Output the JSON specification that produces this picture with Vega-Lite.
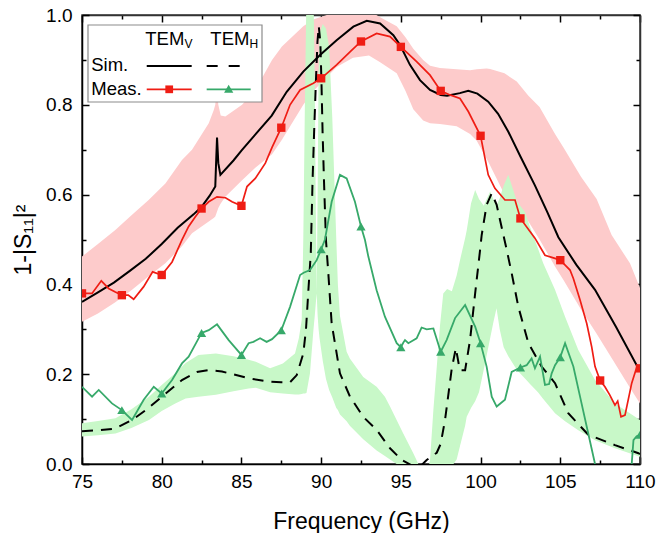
{
  "$schema": "https://vega.github.io/schema/vega-lite/v6.json",
  "width": 558,
  "height": 449,
  "autosize": {"type": "none"},
  "padding": {"left": 82, "top": 15, "right": 16, "bottom": 69},
  "background": "white",
  "config": {
    "font": "Liberation Sans",
    "view": {"stroke": "#333333", "strokeWidth": 1.5},
    "axis": {"grid": false, "zindex": 1, "labelColor": "black", "tickColor": "black", "domainColor": "black", "titleColor": "black"}
  },
  "datasets": {
    "pink": [
      {"x": 75, "lo": 0.317, "hi": 0.462}, {"x": 76, "lo": 0.335, "hi": 0.49}, {"x": 77.09, "lo": 0.36, "hi": 0.521},
      {"x": 78.14, "lo": 0.388, "hi": 0.555}, {"x": 79.18, "lo": 0.418, "hi": 0.588}, {"x": 80.23, "lo": 0.447, "hi": 0.625},
      {"x": 81.27, "lo": 0.485, "hi": 0.677}, {"x": 81.9, "lo": 0.514, "hi": 0.7}, {"x": 82.95, "lo": 0.54, "hi": 0.759},
      {"x": 83.26, "lo": 0.548, "hi": 0.788}, {"x": 83.36, "lo": 0.551, "hi": 0.8}, {"x": 83.45, "lo": 0.56, "hi": 0.84},
      {"x": 83.55, "lo": 0.57, "hi": 0.8}, {"x": 83.7, "lo": 0.58, "hi": 0.776}, {"x": 83.99, "lo": 0.595, "hi": 0.774},
      {"x": 85.04, "lo": 0.632, "hi": 0.8}, {"x": 85.87, "lo": 0.66, "hi": 0.833}, {"x": 86.92, "lo": 0.69, "hi": 0.9},
      {"x": 87.54, "lo": 0.722, "hi": 0.93}, {"x": 88.88, "lo": 0.8, "hi": 0.975}, {"x": 89.5, "lo": 0.83, "hi": 0.99},
      {"x": 90.35, "lo": 0.862, "hi": 1.0}, {"x": 91, "lo": 0.885, "hi": 1.01}, {"x": 92, "lo": 0.905, "hi": 1.02},
      {"x": 93, "lo": 0.91, "hi": 1.01}, {"x": 93.7, "lo": 0.895, "hi": 0.995}, {"x": 94.74, "lo": 0.87, "hi": 0.975},
      {"x": 95.3, "lo": 0.83, "hi": 0.95}, {"x": 95.78, "lo": 0.79, "hi": 0.925}, {"x": 96.4, "lo": 0.765, "hi": 0.9},
      {"x": 96.83, "lo": 0.759, "hi": 0.887}, {"x": 97.45, "lo": 0.757, "hi": 0.882}, {"x": 98.5, "lo": 0.752, "hi": 0.879},
      {"x": 99.34, "lo": 0.735, "hi": 0.877}, {"x": 99.76, "lo": 0.72, "hi": 0.879}, {"x": 100.38, "lo": 0.68, "hi": 0.881},
      {"x": 100.6, "lo": 0.665, "hi": 0.88}, {"x": 101.5, "lo": 0.6, "hi": 0.87}, {"x": 102.27, "lo": 0.575, "hi": 0.852},
      {"x": 103, "lo": 0.54, "hi": 0.82}, {"x": 103.7, "lo": 0.5, "hi": 0.795}, {"x": 104.67, "lo": 0.44, "hi": 0.735},
      {"x": 105.2, "lo": 0.41, "hi": 0.705}, {"x": 106.3, "lo": 0.344, "hi": 0.64}, {"x": 107.28, "lo": 0.29, "hi": 0.59},
      {"x": 108.22, "lo": 0.236, "hi": 0.51}, {"x": 109.37, "lo": 0.17, "hi": 0.447}, {"x": 110, "lo": 0.135, "hi": 0.392}
    ],
    "band1": [
      {"x": 75, "lo": 0.091, "hi": 0.061}, {"x": 76, "lo": 0.096, "hi": 0.064}, {"x": 77.1, "lo": 0.102, "hi": 0.068},
      {"x": 78.1, "lo": 0.122, "hi": 0.08}, {"x": 79.2, "lo": 0.15, "hi": 0.098}, {"x": 80, "lo": 0.176, "hi": 0.118},
      {"x": 80.85, "lo": 0.202, "hi": 0.135}, {"x": 81.5, "lo": 0.225, "hi": 0.146}, {"x": 82.3, "lo": 0.243, "hi": 0.15},
      {"x": 83.4, "lo": 0.246, "hi": 0.154}, {"x": 84.5, "lo": 0.24, "hi": 0.162}, {"x": 85.45, "lo": 0.232, "hi": 0.168},
      {"x": 85.9, "lo": 0.228, "hi": 0.17}, {"x": 86.8, "lo": 0.213, "hi": 0.16}, {"x": 87.6, "lo": 0.224, "hi": 0.157},
      {"x": 88.36, "lo": 0.246, "hi": 0.155}, {"x": 88.6, "lo": 0.28, "hi": 0.155}, {"x": 88.78, "lo": 0.32, "hi": 0.156},
      {"x": 88.88, "lo": 0.5, "hi": 0.157}, {"x": 88.98, "lo": 0.8, "hi": 0.157}, {"x": 89.08, "lo": 1.05, "hi": 0.158},
      {"x": 89.3, "lo": 1.05, "hi": 0.202}, {"x": 89.52, "lo": 1.05, "hi": 0.3}, {"x": 89.6, "lo": 0.85, "hi": 0.33},
      {"x": 89.67, "lo": 0.55, "hi": 0.36}, {"x": 89.72, "lo": 0.38, "hi": 0.38}, {"x": 89.78, "lo": 0.33, "hi": 0.6},
      {"x": 89.84, "lo": 0.3, "hi": 0.88}, {"x": 89.9, "lo": 0.28, "hi": 0.96}, {"x": 90.1, "lo": 0.23, "hi": 0.98},
      {"x": 90.3, "lo": 0.19, "hi": 0.97}, {"x": 90.5, "lo": 0.165, "hi": 0.93}, {"x": 90.7, "lo": 0.148, "hi": 0.77},
      {"x": 90.95, "lo": 0.125, "hi": 0.5}, {"x": 91.05, "lo": 0.12, "hi": 0.4}, {"x": 91.18, "lo": 0.11, "hi": 0.33},
      {"x": 91.6, "lo": 0.095, "hi": 0.25}, {"x": 91.8, "lo": 0.085, "hi": 0.235}, {"x": 92.64, "lo": 0.055, "hi": 0.194},
      {"x": 93.48, "lo": 0.03, "hi": 0.172}, {"x": 94, "lo": 0.018, "hi": 0.15}, {"x": 94.32, "lo": 0.01, "hi": 0.128},
      {"x": 95.15, "lo": -0.01, "hi": 0.068}, {"x": 95.78, "lo": -0.02, "hi": 0.024}, {"x": 96.1, "lo": -0.03, "hi": 0.0},
      {"x": 96.5, "lo": -0.04, "hi": -0.03}
    ],
    "band2": [
      {"x": 96.6, "lo": -0.06, "hi": -0.03}, {"x": 96.83, "lo": -0.06, "hi": 0.009}, {"x": 97.04, "lo": -0.05, "hi": 0.12},
      {"x": 97.45, "lo": -0.04, "hi": 0.306}, {"x": 97.66, "lo": -0.03, "hi": 0.38}, {"x": 97.9, "lo": -0.02, "hi": 0.39},
      {"x": 98.2, "lo": -0.005, "hi": 0.385}, {"x": 98.5, "lo": 0.01, "hi": 0.42}, {"x": 98.71, "lo": 0.04, "hi": 0.454},
      {"x": 99.03, "lo": 0.085, "hi": 0.503}, {"x": 99.13, "lo": 0.105, "hi": 0.52}, {"x": 99.4, "lo": 0.125, "hi": 0.58},
      {"x": 99.66, "lo": 0.14, "hi": 0.61}, {"x": 99.9, "lo": 0.16, "hi": 0.59}, {"x": 100.2, "lo": 0.21, "hi": 0.575},
      {"x": 100.6, "lo": 0.28, "hi": 0.607}, {"x": 100.8, "lo": 0.315, "hi": 0.59}, {"x": 101, "lo": 0.347, "hi": 0.575},
      {"x": 101.2, "lo": 0.3, "hi": 0.592}, {"x": 101.45, "lo": 0.26, "hi": 0.62}, {"x": 101.74, "lo": 0.24, "hi": 0.644},
      {"x": 102.27, "lo": 0.21, "hi": 0.586}, {"x": 102.8, "lo": 0.19, "hi": 0.56}, {"x": 103.1, "lo": 0.178, "hi": 0.528},
      {"x": 103.6, "lo": 0.16, "hi": 0.48}, {"x": 103.93, "lo": 0.145, "hi": 0.447}, {"x": 104.67, "lo": 0.113, "hi": 0.388},
      {"x": 105.3, "lo": 0.095, "hi": 0.328}, {"x": 106.13, "lo": 0.075, "hi": 0.254}, {"x": 107.18, "lo": 0.053, "hi": 0.187},
      {"x": 108.43, "lo": 0.035, "hi": 0.135}, {"x": 110, "lo": 0.016, "hi": 0.098}
    ],
    "simV": [
      {"x": 75, "y": 0.361}, {"x": 76, "y": 0.382}, {"x": 77, "y": 0.404}, {"x": 78, "y": 0.43}, {"x": 79, "y": 0.457},
      {"x": 80, "y": 0.49}, {"x": 81, "y": 0.526}, {"x": 82, "y": 0.556}, {"x": 82.5, "y": 0.573}, {"x": 83, "y": 0.597},
      {"x": 83.36, "y": 0.618}, {"x": 83.42, "y": 0.68}, {"x": 83.47, "y": 0.727}, {"x": 83.55, "y": 0.67},
      {"x": 83.68, "y": 0.644}, {"x": 84.5, "y": 0.676}, {"x": 85, "y": 0.698}, {"x": 86, "y": 0.739}, {"x": 86.9, "y": 0.776},
      {"x": 87.84, "y": 0.829}, {"x": 88.88, "y": 0.874}, {"x": 89.93, "y": 0.911}, {"x": 90.97, "y": 0.944},
      {"x": 92.02, "y": 0.974}, {"x": 92.86, "y": 0.987}, {"x": 93.7, "y": 0.981}, {"x": 94.53, "y": 0.955},
      {"x": 94.95, "y": 0.933}, {"x": 95.57, "y": 0.889}, {"x": 96.2, "y": 0.855}, {"x": 96.83, "y": 0.833},
      {"x": 97.5, "y": 0.822}, {"x": 97.9, "y": 0.82}, {"x": 98.7, "y": 0.826}, {"x": 99.23, "y": 0.831},
      {"x": 99.8, "y": 0.825}, {"x": 100.48, "y": 0.807}, {"x": 101.1, "y": 0.78}, {"x": 101.74, "y": 0.74},
      {"x": 102.5, "y": 0.685}, {"x": 103.4, "y": 0.621}, {"x": 104.2, "y": 0.56}, {"x": 104.88, "y": 0.505},
      {"x": 106, "y": 0.444}, {"x": 107.18, "y": 0.388}, {"x": 108.5, "y": 0.305}, {"x": 109.79, "y": 0.22}, {"x": 110, "y": 0.212}
    ],
    "simH": [
      {"x": 75, "y": 0.073}, {"x": 76, "y": 0.075}, {"x": 77.09, "y": 0.079}, {"x": 78.14, "y": 0.098}, {"x": 79, "y": 0.12},
      {"x": 80.02, "y": 0.15}, {"x": 81.27, "y": 0.187}, {"x": 82.2, "y": 0.205}, {"x": 82.95, "y": 0.209},
      {"x": 83.78, "y": 0.206}, {"x": 85.45, "y": 0.191}, {"x": 86.6, "y": 0.184}, {"x": 87.5, "y": 0.182},
      {"x": 88.05, "y": 0.182}, {"x": 88.47, "y": 0.198}, {"x": 88.7, "y": 0.225}, {"x": 88.88, "y": 0.246},
      {"x": 89.05, "y": 0.3}, {"x": 89.2, "y": 0.387}, {"x": 89.35, "y": 0.469}, {"x": 89.46, "y": 0.629},
      {"x": 89.56, "y": 0.74}, {"x": 89.67, "y": 0.851}, {"x": 89.77, "y": 0.941}, {"x": 89.85, "y": 0.975},
      {"x": 89.95, "y": 0.94}, {"x": 90.02, "y": 0.851}, {"x": 90.09, "y": 0.74}, {"x": 90.18, "y": 0.629},
      {"x": 90.3, "y": 0.5}, {"x": 90.45, "y": 0.425}, {"x": 90.66, "y": 0.313}, {"x": 91.18, "y": 0.202},
      {"x": 91.81, "y": 0.15}, {"x": 92.64, "y": 0.105}, {"x": 93.48, "y": 0.076}, {"x": 94.32, "y": 0.035},
      {"x": 95.05, "y": 0.009}, {"x": 95.78, "y": -0.005}, {"x": 96.2, "y": -0.006}, {"x": 96.62, "y": 0.009},
      {"x": 97.25, "y": 0.025}, {"x": 97.5, "y": 0.045}, {"x": 97.77, "y": 0.098}, {"x": 98, "y": 0.16},
      {"x": 98.19, "y": 0.212}, {"x": 98.45, "y": 0.258}, {"x": 98.7, "y": 0.209}, {"x": 99.03, "y": 0.209},
      {"x": 99.34, "y": 0.276}, {"x": 99.66, "y": 0.38}, {"x": 99.97, "y": 0.477}, {"x": 100.07, "y": 0.51},
      {"x": 100.38, "y": 0.577}, {"x": 100.7, "y": 0.603}, {"x": 101.01, "y": 0.577}, {"x": 101.43, "y": 0.51},
      {"x": 101.64, "y": 0.477}, {"x": 101.95, "y": 0.425}, {"x": 102.37, "y": 0.35}, {"x": 103, "y": 0.269},
      {"x": 103.83, "y": 0.217}, {"x": 104.67, "y": 0.18}, {"x": 105.5, "y": 0.113}, {"x": 106.76, "y": 0.065},
      {"x": 108.43, "y": 0.042}, {"x": 109.9, "y": 0.024}, {"x": 110, "y": 0.022}
    ],
    "measV": [
      {"x": 75, "y": 0.38}, {"x": 75.63, "y": 0.38}, {"x": 76.21, "y": 0.408}, {"x": 76.67, "y": 0.391}, {"x": 77.09, "y": 0.383},
      {"x": 77.5, "y": 0.376}, {"x": 77.9, "y": 0.376}, {"x": 78.24, "y": 0.367}, {"x": 78.87, "y": 0.395},
      {"x": 79.43, "y": 0.428}, {"x": 80, "y": 0.421}, {"x": 80.65, "y": 0.45}, {"x": 81.27, "y": 0.499},
      {"x": 81.69, "y": 0.529}, {"x": 82.1, "y": 0.55}, {"x": 82.5, "y": 0.569}, {"x": 82.95, "y": 0.584},
      {"x": 83.47, "y": 0.595}, {"x": 84, "y": 0.593}, {"x": 84.41, "y": 0.584}, {"x": 85, "y": 0.575},
      {"x": 85.35, "y": 0.618}, {"x": 85.87, "y": 0.636}, {"x": 86.5, "y": 0.67}, {"x": 86.92, "y": 0.705},
      {"x": 87.5, "y": 0.749}, {"x": 88.05, "y": 0.8}, {"x": 88.68, "y": 0.833}, {"x": 89.51, "y": 0.848},
      {"x": 90, "y": 0.859}, {"x": 90.97, "y": 0.889}, {"x": 91.81, "y": 0.918}, {"x": 92.5, "y": 0.941},
      {"x": 93.48, "y": 0.959}, {"x": 94.32, "y": 0.952}, {"x": 95, "y": 0.929}, {"x": 95.99, "y": 0.896},
      {"x": 96.83, "y": 0.866}, {"x": 97.5, "y": 0.831}, {"x": 98.08, "y": 0.822}, {"x": 98.71, "y": 0.814},
      {"x": 99.23, "y": 0.785}, {"x": 100, "y": 0.731}, {"x": 100.48, "y": 0.644}, {"x": 100.9, "y": 0.614},
      {"x": 101.53, "y": 0.588}, {"x": 102.16, "y": 0.588}, {"x": 102.5, "y": 0.547}, {"x": 103.41, "y": 0.503},
      {"x": 104.04, "y": 0.465}, {"x": 104.67, "y": 0.458}, {"x": 105, "y": 0.454}, {"x": 105.61, "y": 0.432},
      {"x": 105.82, "y": 0.413}, {"x": 106.24, "y": 0.365}, {"x": 106.66, "y": 0.313}, {"x": 106.97, "y": 0.261},
      {"x": 107.18, "y": 0.217}, {"x": 107.5, "y": 0.186}, {"x": 107.8, "y": 0.172}, {"x": 108.1, "y": 0.154},
      {"x": 108.43, "y": 0.131}, {"x": 108.6, "y": 0.14}, {"x": 108.81, "y": 0.105}, {"x": 109.06, "y": 0.109},
      {"x": 109.48, "y": 0.18}, {"x": 109.79, "y": 0.215}, {"x": 110, "y": 0.213}
    ],
    "measH": [
      {"x": 75, "y": 0.172}, {"x": 75.63, "y": 0.15}, {"x": 76.05, "y": 0.165}, {"x": 76.88, "y": 0.135}, {"x": 77.5, "y": 0.12},
      {"x": 78.14, "y": 0.098}, {"x": 78.87, "y": 0.143}, {"x": 79.5, "y": 0.172}, {"x": 80, "y": 0.157},
      {"x": 80.65, "y": 0.187}, {"x": 81.27, "y": 0.224}, {"x": 81.69, "y": 0.239}, {"x": 82.5, "y": 0.292},
      {"x": 82.95, "y": 0.298}, {"x": 83.47, "y": 0.311}, {"x": 84.2, "y": 0.276}, {"x": 85, "y": 0.243},
      {"x": 85.45, "y": 0.269}, {"x": 85.75, "y": 0.272}, {"x": 86.17, "y": 0.28}, {"x": 86.58, "y": 0.272},
      {"x": 86.92, "y": 0.278}, {"x": 87.5, "y": 0.298}, {"x": 88.05, "y": 0.35}, {"x": 88.68, "y": 0.421},
      {"x": 88.9, "y": 0.426}, {"x": 89.3, "y": 0.432}, {"x": 89.72, "y": 0.454}, {"x": 90, "y": 0.478},
      {"x": 90.24, "y": 0.5}, {"x": 90.66, "y": 0.584}, {"x": 91.18, "y": 0.644}, {"x": 91.6, "y": 0.636},
      {"x": 92.12, "y": 0.584}, {"x": 92.5, "y": 0.529}, {"x": 92.75, "y": 0.499}, {"x": 92.96, "y": 0.462},
      {"x": 93.48, "y": 0.387}, {"x": 94, "y": 0.328}, {"x": 94.74, "y": 0.269}, {"x": 95, "y": 0.26},
      {"x": 95.15, "y": 0.27}, {"x": 95.26, "y": 0.276}, {"x": 95.47, "y": 0.269}, {"x": 95.99, "y": 0.28},
      {"x": 96.3, "y": 0.304}, {"x": 96.62, "y": 0.3}, {"x": 97.04, "y": 0.302}, {"x": 97.5, "y": 0.25},
      {"x": 97.87, "y": 0.276}, {"x": 98.4, "y": 0.325}, {"x": 99.03, "y": 0.354}, {"x": 99.66, "y": 0.306},
      {"x": 100, "y": 0.269}, {"x": 100.38, "y": 0.217}, {"x": 100.7, "y": 0.15}, {"x": 101.01, "y": 0.128},
      {"x": 101.53, "y": 0.143}, {"x": 101.95, "y": 0.205}, {"x": 102.5, "y": 0.215}, {"x": 102.89, "y": 0.22},
      {"x": 103.2, "y": 0.235}, {"x": 103.41, "y": 0.213}, {"x": 103.73, "y": 0.239}, {"x": 104.04, "y": 0.176},
      {"x": 104.3, "y": 0.178}, {"x": 104.46, "y": 0.202}, {"x": 104.67, "y": 0.22}, {"x": 105, "y": 0.238},
      {"x": 105.3, "y": 0.269}, {"x": 105.82, "y": 0.217}, {"x": 106.24, "y": 0.15}, {"x": 106.66, "y": 0.083},
      {"x": 107.18, "y": 0.0}, {"x": 107.5, "y": -0.03}, {"x": 108.5, "y": -0.06}, {"x": 109.4, "y": -0.02},
      {"x": 109.48, "y": 0.0}, {"x": 109.59, "y": 0.053}, {"x": 109.79, "y": 0.062}, {"x": 110, "y": 0.065}
    ],
    "markV": [
      {"x": 75, "y": 0.38}, {"x": 77.5, "y": 0.376}, {"x": 80, "y": 0.421}, {"x": 82.5, "y": 0.569}, {"x": 85, "y": 0.575},
      {"x": 87.5, "y": 0.749}, {"x": 90, "y": 0.859}, {"x": 92.5, "y": 0.941}, {"x": 95, "y": 0.929}, {"x": 97.5, "y": 0.831},
      {"x": 100, "y": 0.731}, {"x": 102.5, "y": 0.547}, {"x": 105, "y": 0.454}, {"x": 107.5, "y": 0.186}, {"x": 110, "y": 0.213}
    ],
    "markH": [
      {"x": 77.5, "y": 0.12}, {"x": 80, "y": 0.157}, {"x": 82.5, "y": 0.292}, {"x": 85, "y": 0.243}, {"x": 87.5, "y": 0.298},
      {"x": 90, "y": 0.478}, {"x": 92.5, "y": 0.529}, {"x": 95, "y": 0.26}, {"x": 97.5, "y": 0.25}, {"x": 100, "y": 0.269},
      {"x": 102.5, "y": 0.215}, {"x": 105, "y": 0.238}, {"x": 110, "y": 0.065}
    ]
  },
  "resolve": {"axis": {"x": "independent", "y": "independent"}},
  "layer": [
    {
      "data": {"name": "pink"},
      "mark": {"type": "area", "color": "#fdcbcb", "opacity": 1, "clip": true},
      "encoding": {
        "x": {"field": "x", "type": "quantitative", "scale": {"domain": [75, 110]},
          "axis": {"orient": "bottom", "values": [75, 80, 85, 90, 95, 100, 105, 110], "ticks": false,
            "domain": true, "domainWidth": 1.5, "labelFontSize": 19, "labelPadding": 8, "labelFlush": false, "labelOverlap": false,
            "title": "Frequency (GHz)", "titleFontSize": 23, "titleFontWeight": "normal", "titleBaseline": "alphabetic", "titleY": 64}},
        "y": {"field": "lo", "type": "quantitative", "scale": {"domain": [0, 1]},
          "axis": {"orient": "left", "values": [0, 0.2, 0.4, 0.6, 0.8, 1], "format": ".1f", "ticks": false,
            "domain": true, "domainWidth": 1.5, "labelFontSize": 19, "labelPadding": 10, "labelFlush": false, "labelOverlap": false,
            "title": "1-|S₁₁|²", "titleFontSize": 23, "titleFontWeight": "normal", "titleBaseline": "alphabetic", "titleX": -52}},
        "y2": {"field": "hi"}
      }
    },
    {
      "data": {"name": "band1"},
      "mark": {"type": "area", "color": "#c8f8c8", "opacity": 1, "clip": true},
      "encoding": {
        "x": {"field": "x", "type": "quantitative", "scale": {"domain": [75, 110]},
          "axis": {"orient": "bottom", "values": [75, 80, 85, 90, 95, 100, 105, 110], "offset": -7, "tickSize": 7, "tickWidth": 1.5,
            "domain": false, "labels": false, "title": null}},
        "y": {"field": "lo", "type": "quantitative", "scale": {"domain": [0, 1]},
          "axis": {"orient": "left", "values": [0, 0.2, 0.4, 0.6, 0.8, 1], "offset": -7, "tickSize": 7, "tickWidth": 1.5,
            "domain": false, "labels": false, "title": null}},
        "y2": {"field": "hi"}
      }
    },
    {
      "data": {"name": "band2"},
      "mark": {"type": "area", "color": "#c8f8c8", "opacity": 1, "clip": true},
      "encoding": {
        "x": {"field": "x", "type": "quantitative", "scale": {"domain": [75, 110]},
          "axis": {"orient": "bottom", "values": [77.5, 82.5, 87.5, 92.5, 97.5, 102.5, 107.5], "offset": -4, "tickSize": 4, "tickWidth": 1.5,
            "domain": false, "labels": false, "title": null}},
        "y": {"field": "lo", "type": "quantitative", "scale": {"domain": [0, 1]},
          "axis": {"orient": "left", "values": [0.1, 0.3, 0.5, 0.7, 0.9], "offset": -4, "tickSize": 4, "tickWidth": 1.5,
            "domain": false, "labels": false, "title": null}},
        "y2": {"field": "hi"}
      }
    },
    {
      "data": {"name": "simV"},
      "mark": {"type": "line", "color": "black", "strokeWidth": 2, "clip": true},
      "encoding": {
        "x": {"field": "x", "type": "quantitative", "scale": {"domain": [75, 110]},
          "axis": {"orient": "top", "values": [75, 80, 85, 90, 95, 100, 105, 110], "offset": -7, "tickSize": 7, "tickWidth": 1.5,
            "domain": false, "labels": false, "title": null}},
        "y": {"field": "y", "type": "quantitative", "scale": {"domain": [0, 1]},
          "axis": {"orient": "right", "values": [0, 0.2, 0.4, 0.6, 0.8, 1], "offset": -7, "tickSize": 7, "tickWidth": 1.5,
            "domain": false, "labels": false, "title": null}}
      }
    },
    {
      "data": {"name": "simH"},
      "mark": {"type": "line", "color": "black", "strokeWidth": 2, "strokeDash": [11, 8], "clip": true},
      "encoding": {
        "x": {"field": "x", "type": "quantitative", "scale": {"domain": [75, 110]},
          "axis": {"orient": "top", "values": [77.5, 82.5, 87.5, 92.5, 97.5, 102.5, 107.5], "offset": -4, "tickSize": 4, "tickWidth": 1.5,
            "domain": false, "labels": false, "title": null}},
        "y": {"field": "y", "type": "quantitative", "scale": {"domain": [0, 1]},
          "axis": {"orient": "right", "values": [0.1, 0.3, 0.5, 0.7, 0.9], "offset": -4, "tickSize": 4, "tickWidth": 1.5,
            "domain": false, "labels": false, "title": null}}
      }
    },
    {
      "data": {"name": "measV"},
      "mark": {"type": "line", "color": "#ef1d14", "strokeWidth": 1.7, "clip": true},
      "encoding": {
        "x": {"field": "x", "type": "quantitative", "scale": {"domain": [75, 110]},
          "axis": {"orient": "top", "ticks": false, "labels": false, "domain": true, "domainColor": "#333333", "domainWidth": 1.5, "title": null}},
        "y": {"field": "y", "type": "quantitative", "scale": {"domain": [0, 1]},
          "axis": {"orient": "right", "ticks": false, "labels": false, "domain": true, "domainColor": "#333333", "domainWidth": 1.5, "title": null}}
      }
    },
    {
      "data": {"name": "measH"},
      "mark": {"type": "line", "color": "#37a96a", "strokeWidth": 1.8, "clip": true},
      "encoding": {
        "x": {"field": "x", "type": "quantitative", "scale": {"domain": [75, 110]}, "axis": null},
        "y": {"field": "y", "type": "quantitative", "scale": {"domain": [0, 1]}, "axis": null}
      }
    },
    {
      "data": {"name": "markV"},
      "mark": {"type": "point", "shape": "square", "filled": true, "color": "#ef1d14", "opacity": 1, "size": 70, "clip": true},
      "encoding": {
        "x": {"field": "x", "type": "quantitative", "scale": {"domain": [75, 110]}, "axis": null},
        "y": {"field": "y", "type": "quantitative", "scale": {"domain": [0, 1]}, "axis": null}
      }
    },
    {
      "data": {"name": "markH"},
      "mark": {"type": "point", "shape": "triangle-up", "filled": true, "color": "#37a96a", "opacity": 1, "size": 85, "clip": true},
      "encoding": {
        "x": {"field": "x", "type": "quantitative", "scale": {"domain": [75, 110]}, "axis": null},
        "y": {"field": "y", "type": "quantitative", "scale": {"domain": [0, 1]}, "axis": null}
      }
    },
    {
      "data": {"values": [{}]},
      "mark": {"type": "rect", "fill": "white", "stroke": "#8c8c8c", "strokeWidth": 1.2},
      "encoding": {
        "x": {"datum": 75.376, "type": "quantitative", "axis": null},
        "x2": {"datum": 86.29},
        "y": {"datum": 0.8062, "type": "quantitative", "axis": null},
        "y2": {"datum": 0.9777}
      }
    },
    {
      "data": {"values": [{}]},
      "mark": {"type": "text", "text": "TEM", "fontSize": 18.5, "align": "left", "baseline": "alphabetic", "color": "black"},
      "encoding": {
        "x": {"datum": 78.97, "type": "quantitative", "axis": null},
        "y": {"datum": 0.9332, "type": "quantitative", "axis": null}
      }
    },
    {
      "data": {"values": [{}]},
      "mark": {"type": "text", "text": "V", "fontSize": 12, "align": "left", "baseline": "alphabetic", "color": "black"},
      "encoding": {
        "x": {"datum": 81.43, "type": "quantitative", "axis": null},
        "y": {"datum": 0.9258, "type": "quantitative", "axis": null}
      }
    },
    {
      "data": {"values": [{}]},
      "mark": {"type": "text", "text": "TEM", "fontSize": 18.5, "align": "left", "baseline": "alphabetic", "color": "black"},
      "encoding": {
        "x": {"datum": 83.05, "type": "quantitative", "axis": null},
        "y": {"datum": 0.9332, "type": "quantitative", "axis": null}
      }
    },
    {
      "data": {"values": [{}]},
      "mark": {"type": "text", "text": "H", "fontSize": 12, "align": "left", "baseline": "alphabetic", "color": "black"},
      "encoding": {
        "x": {"datum": 85.5, "type": "quantitative", "axis": null},
        "y": {"datum": 0.9258, "type": "quantitative", "axis": null}
      }
    },
    {
      "data": {"values": [{}]},
      "mark": {"type": "text", "text": "Sim.", "fontSize": 18.5, "align": "left", "baseline": "alphabetic", "color": "black"},
      "encoding": {
        "x": {"datum": 75.58, "type": "quantitative", "axis": null},
        "y": {"datum": 0.875, "type": "quantitative", "axis": null}
      }
    },
    {
      "data": {"values": [{}]},
      "mark": {"type": "text", "text": "Meas.", "fontSize": 18.5, "align": "left", "baseline": "alphabetic", "color": "black"},
      "encoding": {
        "x": {"datum": 75.58, "type": "quantitative", "axis": null},
        "y": {"datum": 0.8218, "type": "quantitative", "axis": null}
      }
    },
    {
      "data": {"values": [{}]},
      "mark": {"type": "rule", "color": "black", "strokeWidth": 2},
      "encoding": {
        "x": {"datum": 79.06, "type": "quantitative", "axis": null},
        "x2": {"datum": 81.88},
        "y": {"datum": 0.8864, "type": "quantitative", "axis": null}
      }
    },
    {
      "data": {"values": [{}]},
      "mark": {"type": "rule", "color": "black", "strokeWidth": 2, "strokeDash": [11, 11]},
      "encoding": {
        "x": {"datum": 82.82, "type": "quantitative", "axis": null},
        "x2": {"datum": 84.91},
        "y": {"datum": 0.8864, "type": "quantitative", "axis": null}
      }
    },
    {
      "data": {"values": [{}]},
      "mark": {"type": "rule", "color": "#ef1d14", "strokeWidth": 1.7},
      "encoding": {
        "x": {"datum": 79.06, "type": "quantitative", "axis": null},
        "x2": {"datum": 81.88},
        "y": {"datum": 0.8345, "type": "quantitative", "axis": null}
      }
    },
    {
      "data": {"values": [{}]},
      "mark": {"type": "rule", "color": "#37a96a", "strokeWidth": 1.8},
      "encoding": {
        "x": {"datum": 82.82, "type": "quantitative", "axis": null},
        "x2": {"datum": 85.58},
        "y": {"datum": 0.8345, "type": "quantitative", "axis": null}
      }
    },
    {
      "data": {"values": [{}]},
      "mark": {"type": "point", "shape": "square", "filled": true, "color": "#ef1d14", "opacity": 1, "size": 60},
      "encoding": {
        "x": {"datum": 80.47, "type": "quantitative", "axis": null},
        "y": {"datum": 0.8345, "type": "quantitative", "axis": null}
      }
    },
    {
      "data": {"values": [{}]},
      "mark": {"type": "point", "shape": "triangle-up", "filled": true, "color": "#37a96a", "opacity": 1, "size": 85},
      "encoding": {
        "x": {"datum": 84.2, "type": "quantitative", "axis": null},
        "y": {"datum": 0.8355, "type": "quantitative", "axis": null}
      }
    }
  ]
}
